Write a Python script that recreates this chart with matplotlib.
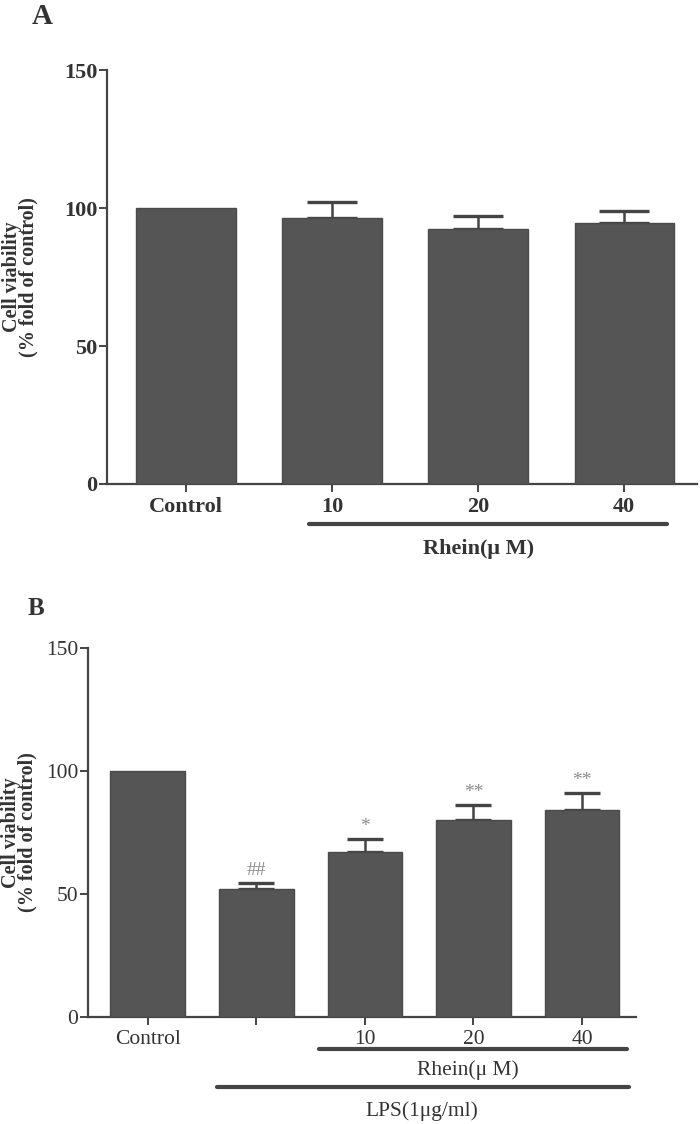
import matplotlib
matplotlib.use('Agg')
import matplotlib.pyplot as plt
import matplotlib.transforms as mtransforms

plt.rcParams['font.family'] = ['Liberation Serif', 'DejaVu Serif']

# panel A: rhein alone
labels_a = ['Control', '10', '20', '40']
values_a = [100, 96.5, 92.5, 94.5]
errors_a = [0, 5.5, 4.5, 4.5]

# panel B: rhein + LPS
labels_b = ['Control', '', '10', '20', '40']
values_b = [100, 52, 67, 80, 84]
errors_b = [0, 2.5, 5.5, 6.2, 7]
marks_b = ['', '##', '*', '**', '**']

bar_color = '#555555'
line_color = '#444444'
text_color = '#333333'

fig = plt.figure(figsize=(7, 11.24), dpi=100)


def style_axis(ax, xlim, weight, fs):
    ax.set_ylim(0, 150)
    ax.set_xlim(*xlim)
    ax.set_yticks([0, 50, 100, 150])
    for s in ['top', 'right']:
        ax.spines[s].set_visible(False)
    for s in ['left', 'bottom']:
        ax.spines[s].set_color(line_color)
        ax.spines[s].set_linewidth(1.6)
    ax.tick_params(axis='both', colors=line_color, width=1.4, length=6,
                   labelcolor=text_color, labelsize=fs)
    ax.tick_params(axis='y', pad=1)
    for t in ax.get_xticklabels() + ax.get_yticklabels():
        t.set_fontweight(weight)
    ax.set_ylabel('Cell viability\n(% fold of control)', fontsize=14.5,
                  fontweight='bold', color=text_color, linespacing=0.8)


# ---- A ----
ax1 = fig.add_axes([0.153, 0.5694, 0.843, 0.3683])
x_a = list(range(len(labels_a)))
ax1.bar(x_a, values_a, width=0.68, color=bar_color, edgecolor='#4a4a4a', linewidth=1, zorder=3)
ax1.errorbar(x_a[1:], values_a[1:], yerr=[[0] * 3, errors_a[1:]], fmt='none',
             ecolor='#444444', elinewidth=1.8, capsize=18, capthick=2.4, zorder=2)
ax1.set_xticks(x_a)
ax1.set_xticklabels(labels_a)
style_axis(ax1, (-0.54, 3.5), 'bold', 16)
ax1.yaxis.set_label_coords(-0.116, 0.5)
trA = mtransforms.blended_transform_factory(ax1.transData, ax1.transAxes)
ax1.plot([0.84, 3.29], [-0.097, -0.097], transform=trA, color=line_color, lw=3,
         solid_capstyle='round', clip_on=False)
ax1.text(2.0, -0.157, 'Rhein(\u03bc M)', transform=trA, ha='center', va='center',
         fontsize=16, fontweight='bold', color=text_color)
fig.text(0.046, 0.985, 'A', fontsize=21, fontweight='bold', color=text_color, va='center')

# ---- B ----
ax2 = fig.add_axes([0.126, 0.0952, 0.783, 0.3283])
x_b = list(range(len(labels_b)))
ax2.bar(x_b, values_b, width=0.69, color=bar_color, edgecolor='#4a4a4a', linewidth=1, zorder=3)
ax2.errorbar(x_b[1:], values_b[1:], yerr=[[0] * 4, errors_b[1:]], fmt='none',
             ecolor='#444444', elinewidth=1.8, capsize=13, capthick=2.4, zorder=2)
for xi, v, e, m in zip(x_b, values_b, errors_b, marks_b):
    if m:
        ax2.text(xi, v + e + 1.5, m, ha='center', va='bottom', fontsize=14,
                 color='#8a8a8a')
ax2.set_xticks(x_b)
ax2.set_xticklabels(labels_b)
style_axis(ax2, (-0.55, 4.5), 'normal', 15.5)
ax2.yaxis.set_label_coords(-0.092, 0.5)
trB = mtransforms.blended_transform_factory(ax2.transData, ax2.transAxes)
ax2.plot([1.58, 4.41], [-0.087, -0.087], transform=trB, color=line_color, lw=3,
         solid_capstyle='round', clip_on=False)
ax2.text(2.95, -0.144, 'Rhein(\u03bc M)', transform=trB, ha='center', va='center',
         fontsize=15.5, color=text_color)
ax2.plot([0.64, 4.43], [-0.19, -0.19], transform=trB, color=line_color, lw=3,
         solid_capstyle='round', clip_on=False)
ax2.text(2.52, -0.255, 'LPS(1\u03bcg/ml)', transform=trB, ha='center', va='center',
         fontsize=15.5, color=text_color)
fig.text(0.04, 0.459, 'B', fontsize=18, fontweight='bold', color=text_color, va='center')

fig.savefig('out.png', dpi=100)
